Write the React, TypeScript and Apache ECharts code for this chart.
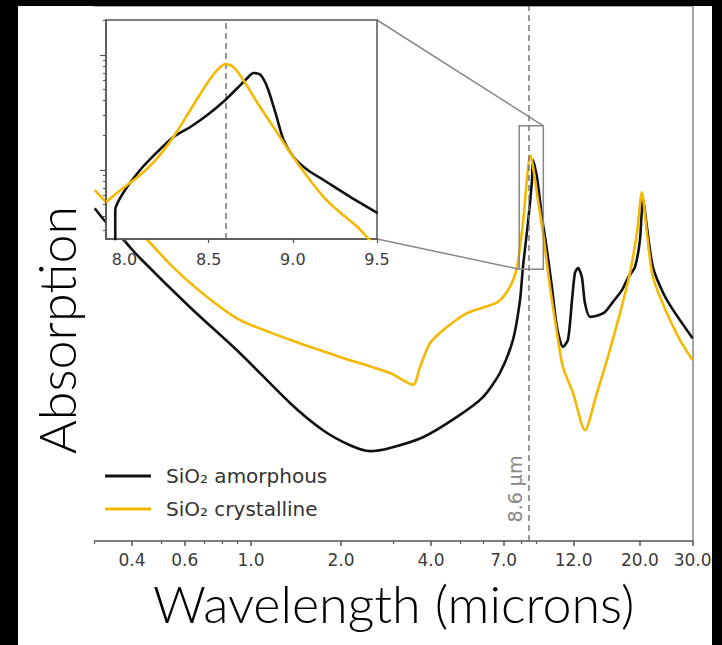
import React, { useEffect, useRef } from "react";
import * as echarts from "echarts";

// ---- main panel data (wavelength in microns, absorption in arbitrary units) ----
const amorphousWl = [0.3, 0.327, 0.373, 0.425, 0.625, 0.919, 1.35, 1.741, 2.144, 2.5, 2.917, 3.761, 4.887, 5.97, 6.8, 7.52, 7.94, 8.12, 8.44, 8.71, 8.77, 9.05, 9.4, 9.77, 10.15, 10.55, 11.05, 11.49, 11.85, 12.12, 12.41, 12.79, 13.09, 13.61, 14.36, 15.28, 16.25, 17.41, 18.24, 19.24, 20.0, 20.47, 21.1, 22.1, 23.9, 25.8, 30];
const amorphousAbs = [62.2, 59.6, 56.4, 52.9, 43.7, 35.1, 25.8, 20.7, 17.9, 16.8, 17.4, 19.4, 23.2, 26.9, 31.4, 37.6, 45.0, 51.2, 59.4, 67.5, 71.2, 68.0, 60.6, 54.4, 47.5, 40.0, 36.3, 37.6, 45.0, 50.1, 51.0, 49.3, 44.5, 41.9, 42.1, 42.8, 44.7, 46.9, 49.2, 51.2, 56.3, 64.1, 58.7, 51.2, 46.4, 43.2, 37.9];

const crystallineWl = [0.3, 0.327, 0.449, 0.548, 0.713, 0.919, 1.35, 1.984, 2.917, 3.483, 3.675, 3.97, 4.524, 5.28, 6.7, 7.35, 7.76, 8.12, 8.6, 9.12, 9.48, 10.0, 10.55, 11.05, 11.94, 13.09, 14.36, 15.51, 17.15, 18.52, 19.54, 20.3, 21.1, 22.1, 24.6, 27.2, 30];
const crystallineAbs = [65.6, 63.4, 56.3, 51.2, 45.6, 41.3, 37.6, 34.4, 31.4, 29.2, 32.5, 37.0, 40.0, 42.6, 44.7, 47.5, 51.2, 59.4, 72.1, 63.7, 57.6, 47.5, 38.9, 32.5, 27.7, 20.7, 27.7, 33.8, 42.6, 50.1, 57.6, 65.2, 57.6, 49.3, 42.6, 37.6, 33.8];

// ---- inset data (wavelength, log10 absorption) ----
const insetAmorphousWl = [7.945, 7.945, 7.992, 8.093, 8.195, 8.29, 8.391, 8.492, 8.599, 8.671, 8.73, 8.766, 8.808, 8.85, 8.897, 8.945, 9.004, 9.088, 9.183, 9.343, 9.504];
const insetAmorphousLog = [-0.65, -0.348, -0.2, 0, 0.157, 0.287, 0.374, 0.478, 0.609, 0.713, 0.8, 0.843, 0.826, 0.713, 0.496, 0.261, 0.113, 0, -0.087, -0.235, -0.374];

const insetCrystallineWl = [7.891, 7.992, 8.093, 8.195, 8.29, 8.391, 8.492, 8.552, 8.599, 8.647, 8.706, 8.79, 8.885, 8.986, 9.088, 9.183, 9.284, 9.385, 9.45, 9.504];
const insetCrystallineLog = [-0.278, -0.157, -0.043, 0.104, 0.287, 0.522, 0.757, 0.87, 0.922, 0.896, 0.783, 0.583, 0.374, 0.148, -0.061, -0.235, -0.374, -0.496, -0.6, -0.67];

// ---- ticks ----
const mainRange = [0.3, 30];
const mainMajorTicks = [0.4, 0.6, 1.0, 2.0, 4.0, 7.0, 12.0, 20.0, 30.0];
const mainMinorTicks = [0.3, 0.5, 0.7, 0.8, 0.9, 3, 5, 6, 8, 9];
const insetXRange = [7.89, 9.5];
const insetXTicks = [8.0, 8.5, 9.0, 9.5];
const insetYRange = [-0.6, 1.304];
const insetYMajor = [1, 10];
const insetYMinor = [0.3, 0.4, 0.5, 0.6, 0.7, 0.8, 0.9, 2, 3, 4, 5, 6, 7, 8, 9, 20];
const markWl = 8.6;
const zoomBoxY = [50.8, 77.6];

const names = ["SiO\u2082 amorphous", "SiO\u2082 crystalline"];
const BLACK = "#111111";
const GOLD = "#f5b800";

const lg = Math.log10;

function buildOption(): any {
  const pair = (xs: number[], ys: number[], fx: (v: number) => number) => xs.map((x, i) => [fx(x), ys[i]]);
  const id = (v: number) => v;
  const axisGray = "#555";
  return {
    animation: false,
    backgroundColor: "#fff",
    grid: [
      { left: 94.7, right: 29.4, top: 6, bottom: 104, z: 0 },
      { left: 106, top: 20, width: 271, height: 219, show: true, backgroundColor: "#fff", borderColor: axisGray, borderWidth: 1.5, z: 10 },
    ],
    legend: {
      left: 100,
      top: 461,
      orient: "vertical",
      icon: "rect",
      itemWidth: 46,
      itemHeight: 3,
      itemGap: 13,
      data: names,
      textStyle: { fontSize: 20, fontFamily: "DejaVu Sans", color: "#333", padding: [0, 0, 0, 10] },
    },
    xAxis: [
      {
        gridIndex: 0,
        type: "value",
        position: "bottom",
        min: lg(mainRange[0]),
        max: lg(mainRange[1]),
        z: 1,
        axisLine: { onZero: false, lineStyle: { color: axisGray, width: 1.5 } },
        axisTick: { customValues: mainMajorTicks.map(lg), length: 5, lineStyle: { color: axisGray, width: 1.5 } },
        axisLabel: {
          customValues: mainMajorTicks.map(lg),
          formatter: (v: number) => Math.pow(10, v).toFixed(1),
          fontSize: 17,
          fontFamily: "DejaVu Sans",
          color: "#3a3a3a",
          margin: 10,
        },
        splitLine: { show: false },
        name: "Wavelength (microns)",
        nameLocation: "middle",
        nameGap: 36,
        nameTextStyle: { fontSize: 52, fontFamily: "Lato", fontWeight: 300, color: "#000" },
      },
      {
        gridIndex: 0,
        type: "value",
        position: "bottom",
        min: lg(mainRange[0]),
        max: lg(mainRange[1]),
        z: 1,
        axisLine: { show: false, onZero: false },
        axisTick: { customValues: mainMinorTicks.map(lg), length: 3, lineStyle: { color: axisGray, width: 1.2 } },
        axisLabel: { show: false },
        splitLine: { show: false },
      },
      {
        gridIndex: 1,
        type: "value",
        position: "bottom",
        min: insetXRange[0],
        max: insetXRange[1],
        z: 11,
        axisLine: { onZero: false, lineStyle: { color: axisGray, width: 1.5 } },
        axisTick: { customValues: insetXTicks, length: 4, lineStyle: { color: axisGray, width: 1.2 } },
        axisLabel: {
          customValues: insetXTicks,
          formatter: (v: number) => v.toFixed(1),
          fontSize: 16,
          fontFamily: "DejaVu Sans",
          color: "#3a3a3a",
          margin: 12,
        },
        splitLine: { show: false },
      },
      {
        gridIndex: 0,
        type: "value",
        position: "top",
        min: lg(mainRange[0]),
        max: lg(mainRange[1]),
        z: 1,
        axisLine: { onZero: false, lineStyle: { color: "#888", width: 1.5 } },
        axisTick: { show: false },
        axisLabel: { show: false },
        splitLine: { show: false },
      },
    ],
    yAxis: [
      {
        gridIndex: 0,
        type: "value",
        position: "left",
        min: 0,
        max: 100,
        z: 1,
        axisLine: { show: false, onZero: false },
        axisTick: { show: false },
        axisLabel: { show: false },
        splitLine: { show: false },
      },
      {
        gridIndex: 0,
        type: "value",
        position: "right",
        min: 0,
        max: 100,
        z: 1,
        axisLine: { show: true, onZero: false, lineStyle: { color: "#888", width: 1.5 } },
        axisTick: { show: false },
        axisLabel: { show: false },
        splitLine: { show: false },
      },
      {
        gridIndex: 1,
        type: "value",
        position: "left",
        min: insetYRange[0],
        max: insetYRange[1],
        z: 11,
        axisLine: { show: true, onZero: false, lineStyle: { color: axisGray, width: 1.5 } },
        axisTick: { customValues: insetYMajor.map(lg), length: 6, lineStyle: { color: axisGray, width: 1.2 } },
        axisLabel: { show: false },
        splitLine: { show: false },
      },
      {
        gridIndex: 1,
        type: "value",
        position: "left",
        min: insetYRange[0],
        max: insetYRange[1],
        z: 11,
        axisLine: { show: false, onZero: false },
        axisTick: { customValues: insetYMinor.map(lg), length: 3, lineStyle: { color: axisGray, width: 1 } },
        axisLabel: { show: false },
        splitLine: { show: false },
      },
    ],
    series: [
      {
        name: names[0],
        type: "line",
        xAxisIndex: 0,
        yAxisIndex: 0,
        z: 2,
        data: pair(amorphousWl, amorphousAbs, lg),
        showSymbol: false,
        smooth: 0.25,
        lineStyle: { color: BLACK, width: 2.6 },
        itemStyle: { color: BLACK },
        markLine: {
          silent: true,
          z: 3,
          symbol: "none",
          label: { show: false },
          lineStyle: { color: "#777", type: [6, 4], width: 1.5 },
          data: [{ xAxis: lg(markWl) }],
        },
        markArea: {
          silent: true,
          z: 3,
          itemStyle: { color: "rgba(0,0,0,0)", borderColor: "#888", borderWidth: 1.5 },
          data: [[{ coord: [lg(insetXRange[0]), zoomBoxY[0]] }, { coord: [lg(insetXRange[1]), zoomBoxY[1]] }]],
        },
      },
      {
        name: names[1],
        type: "line",
        xAxisIndex: 0,
        yAxisIndex: 0,
        z: 2,
        data: pair(crystallineWl, crystallineAbs, lg),
        showSymbol: false,
        smooth: 0.25,
        lineStyle: { color: GOLD, width: 2.6 },
        itemStyle: { color: GOLD },
      },
      {
        name: names[0],
        type: "line",
        xAxisIndex: 2,
        yAxisIndex: 2,
        z: 12,
        data: pair(insetAmorphousWl, insetAmorphousLog, id),
        showSymbol: false,
        smooth: 0.25,
        clip: true,
        lineStyle: { color: BLACK, width: 2.6 },
        itemStyle: { color: BLACK },
        markLine: {
          silent: true,
          z: 11,
          symbol: "none",
          label: { show: false },
          lineStyle: { color: "#777", type: [6, 4], width: 1.5 },
          data: [{ xAxis: markWl }],
        },
      },
      {
        name: names[1],
        type: "line",
        xAxisIndex: 2,
        yAxisIndex: 2,
        z: 12,
        data: pair(insetCrystallineWl, insetCrystallineLog, id),
        showSymbol: false,
        smooth: 0.25,
        clip: true,
        lineStyle: { color: GOLD, width: 2.6 },
        itemStyle: { color: GOLD },
      },
    ],
  };
}

export default function App() {
  const ref = useRef<HTMLDivElement>(null);
  useEffect(() => {
    document.body.style.margin = "0";
    const chart = echarts.init(ref.current!, null, { renderer: "svg" });
    chart.setOption(buildOption());

    const inset = { xAxisIndex: 2, yAxisIndex: 2 };
    const main = { xAxisIndex: 0, yAxisIndex: 0 };
    const insetTR = chart.convertToPixel(inset, [insetXRange[1], insetYRange[1]]) as number[];
    const insetBR = chart.convertToPixel(inset, [insetXRange[1], insetYRange[0]]) as number[];
    const boxTR = chart.convertToPixel(main, [lg(insetXRange[1]), zoomBoxY[1]]) as number[];
    const boxBL = chart.convertToPixel(main, [lg(insetXRange[0]), zoomBoxY[0]]) as number[];
    const markBottom = chart.convertToPixel(main, [lg(markWl), 0]) as number[];

    const lineStyle = { stroke: "#888", lineWidth: 1.5 };
    chart.setOption({
      graphic: [
        { type: "line", z: 3, shape: { x1: insetTR[0], y1: insetTR[1], x2: boxTR[0], y2: boxTR[1] }, style: lineStyle },
        { type: "line", z: 3, shape: { x1: insetBR[0], y1: insetBR[1], x2: boxBL[0], y2: boxBL[1] }, style: lineStyle },
        {
          type: "text",
          z: 5,
          x: markBottom[0] - 15,
          y: markBottom[1] - 52,
          rotation: Math.PI / 2,
          style: {
            text: "8.6 \u00b5m",
            fontSize: 19,
            fontFamily: "DejaVu Sans",
            fill: "#888",
            align: "center",
            verticalAlign: "middle",
          },
        },
        {
          type: "text",
          z: 5,
          x: 56,
          y: 330,
          rotation: Math.PI / 2,
          style: {
            text: "Absorption",
            fontSize: 52,
            fontFamily: "Lato",
            fontWeight: 300,
            fill: "#000",
            align: "center",
            verticalAlign: "middle",
          },
        },
        { type: "rect", z: 100, shape: { x: 0, y: 0, width: 18, height: 645 }, style: { fill: "#000" } },
        { type: "rect", z: 100, shape: { x: 0, y: 0, width: 722, height: 6 }, style: { fill: "#000" } },
        { type: "rect", z: 100, shape: { x: 712, y: 0, width: 10, height: 645 }, style: { fill: "#000" } },
      ],
    });
    return () => chart.dispose();
  }, []);
  return <div ref={ref} style={{ width: 722, height: 645 }} />;
}
